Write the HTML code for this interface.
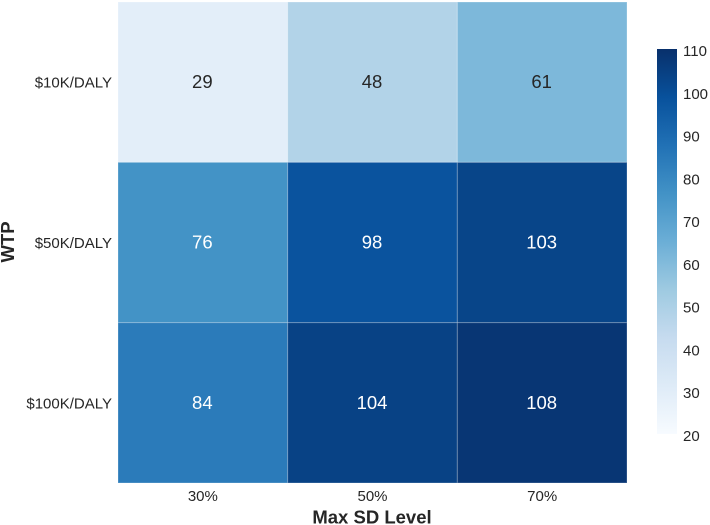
<!DOCTYPE html>
<html lang="en">
<head>
<meta charset="utf-8">
<title>WTP heatmap</title>
<style>
html,body{margin:0;padding:0;background:#fff;width:710px;height:525px;overflow:hidden}
svg{display:block}
text{font-family:"Liberation Sans",sans-serif}
</style>
</head>
<body>
<svg id="chart" width="710" height="525" viewBox="0 0 710 525" xmlns="http://www.w3.org/2000/svg"></svg>
<script>
const xCategories = ["30%", "50%", "70%"];
const yCategories = ["$10K/DALY", "$50K/DALY", "$100K/DALY"];
const cellValues = [
  [29, 48, 61],
  [76, 98, 103],
  [84, 104, 108]
];
const colorbarTicks = [20, 30, 40, 50, 60, 70, 80, 90, 100, 110];
const colorMin = 20;
const colorMax = 110;
const blues = ["#f7fbff", "#deebf7", "#c6dbef", "#9ecae1", "#6baed6", "#4292c6", "#2171b5", "#08519c", "#08306b"];

const NS = "http://www.w3.org/2000/svg";
const svg = document.getElementById("chart");
const plot = { left: 118, right: 627, top: 2, bottom: 483 };
const bar = { left: 657, right: 677, top: 49, bottom: 434 };

function make(tag, attrs, text) {
  const el = document.createElementNS(NS, tag);
  for (const k in attrs) el.setAttribute(k, attrs[k]);
  if (text !== undefined) el.textContent = text;
  return el;
}
function hexToRgb(h) {
  return [1, 3, 5].map(i => parseInt(h.slice(i, i + 2), 16));
}
function colorAt(t) {
  const c = Math.max(0, Math.min(1, t)) * (blues.length - 1);
  const i = Math.min(Math.floor(c), blues.length - 2);
  const f = c - i;
  const a = hexToRgb(blues[i]);
  const b = hexToRgb(blues[i + 1]);
  return "rgb(" + a.map((v, n) => Math.round(v + (b[n] - v) * f)).join(",") + ")";
}
function norm(v) {
  return (v - colorMin) / (colorMax - colorMin);
}
const cellW = (plot.right - plot.left) / xCategories.length;
const cellH = (plot.bottom - plot.top) / yCategories.length;
function xScale(i) {
  return plot.left + i * cellW;
}
function yScale(i) {
  return plot.top + i * cellH;
}
function barY(v) {
  return bar.bottom - norm(v) * (bar.bottom - bar.top);
}

yCategories.forEach((rowName, r) => {
  xCategories.forEach((colName, c) => {
    const v = cellValues[r][c];
    const rect = make("rect", {
      x: xScale(c),
      y: yScale(r),
      width: cellW,
      height: cellH,
      fill: colorAt(norm(v)),
      stroke: "#ffffff",
      "stroke-opacity": "0.25",
      "stroke-width": "1"
    });
    
    
    svg.appendChild(rect);
  });
});

yCategories.forEach((rowName, r) => {
  xCategories.forEach((colName, c) => {
    const v = cellValues[r][c];
    const label = make("text", {
      x: xScale(c) + cellW / 2 - 0.5,
      y: yScale(r) + cellH / 2 + 6,
      "text-anchor": "middle",
      "font-size": "18.5",
      fill: norm(v) > 0.5 ? "#ffffff" : "#262626"
    }, String(v));
    
    
    svg.appendChild(label);
  });
});

yCategories.forEach((rowName, r) => {
  const label = make("text", {
    x: 112,
    y: yScale(r) + cellH / 2 + 5.5,
    "text-anchor": "end",
    "font-size": "15",
    fill: "#262626"
  }, rowName);
  
  
  svg.appendChild(label);
});

xCategories.forEach((colName, c) => {
  const label = make("text", {
    x: xScale(c) + cellW / 2,
    y: 501,
    "text-anchor": "middle",
    "font-size": "15",
    fill: "#262626"
  }, colName);
  
  
  svg.appendChild(label);
});

const xTitle = make("text", {
  x: 372,
  y: 523.5,
  "text-anchor": "middle",
  "font-size": "18.5",
  "font-weight": "bold",
  fill: "#262626"
}, "Max SD Level");


svg.appendChild(xTitle);

const yTitle = make("text", {
  x: 0,
  y: 0,
  transform: "translate(14 242) rotate(-90)",
  "text-anchor": "middle",
  "font-size": "18.5",
  "font-weight": "bold",
  fill: "#262626"
}, "WTP");


svg.appendChild(yTitle);

const defs = make("defs", {});
const grad = make("linearGradient", { id: "bluesGradient", x1: "0", y1: "1", x2: "0", y2: "0" });
blues.forEach((col, i) => {
  grad.appendChild(make("stop", { offset: i / (blues.length - 1), "stop-color": col }));
});
defs.appendChild(grad);
svg.appendChild(defs);

const colorbar = make("rect", {
  x: bar.left,
  y: barY(colorMax),
  width: bar.right - bar.left,
  height: barY(colorMin) - barY(colorMax),
  fill: "url(#bluesGradient)"
});


svg.appendChild(colorbar);

colorbarTicks.forEach(t => {
  const label = make("text", {
    x: 683,
    y: barY(t) + 7,
    "text-anchor": "start",
    "font-size": "15",
    fill: "#262626"
  }, String(t));
  
  
  svg.appendChild(label);
});
</script>
</body>
</html>
